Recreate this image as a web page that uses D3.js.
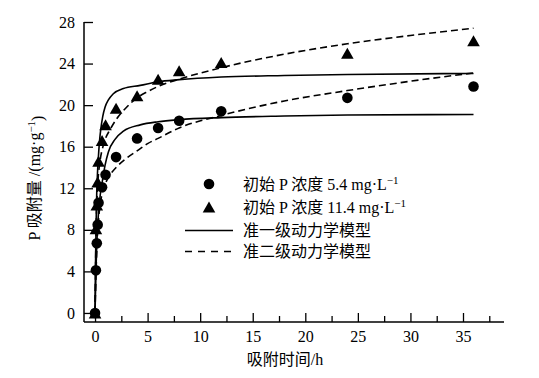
<!DOCTYPE html>
<html><head><meta charset="utf-8">
<script src="https://cdn.jsdelivr.net/npm/d3@7"></script>
<style>
body{margin:0;background:#fff;}
text{font-family:"Liberation Serif","Noto Sans CJK SC",serif;fill:#000;}
</style></head>
<body><svg id="c" width="539" height="378"></svg>
<script>
// measured data
const times = [0, 0.083, 0.167, 0.25, 0.333, 0.667, 1, 2, 4, 6, 8, 12, 24, 36];
const q54  = [0, 4.1, 6.7, 8.5, 10.6, 12.1, 13.3, 15.0, 16.8, 17.8, 18.5, 19.4, 20.7, 21.8];
const q114 = [0, 8.1, 10.4, 12.6, 14.6, 16.6, 18.1, 19.7, 20.9, 22.5, 23.3, 24.1, 25.0, 26.2];

// fitted curves
const pfo54T = [0, 0.083, 0.167, 0.25, 0.35, 0.5, 0.73, 0.95, 1.27, 1.9, 2.7, 4.3, 6, 8, 12, 18, 24, 36];
const pfo54Q = [0, 4.0, 6.6, 8.4, 9.9, 11.4, 12.9, 14.2, 15.5, 16.7, 17.5, 18.1, 18.4, 18.6, 18.8, 18.95, 19.05, 19.1];
const pfo114T = [0, 0.05, 0.1, 0.16, 0.25, 0.35, 0.45, 0.55, 0.73, 0.95, 1.27, 1.74, 2.7, 4.3, 6, 8, 12, 18, 24, 36];
const pfo114Q = [0, 5.0, 8.5, 11.5, 13.8, 15.5, 16.8, 17.7, 18.9, 19.8, 20.5, 21.1, 21.6, 21.9, 22.25, 22.45, 22.7, 22.85, 22.95, 23.05];
const pso54T = [0, 0.083, 0.167, 0.25, 0.35, 0.5, 0.75, 1, 1.5, 2, 3, 4, 5, 6, 8, 12, 18, 24, 30, 36];
const pso54Q = [0, 3.5, 6.0, 7.8, 9.2, 10.5, 11.8, 12.5, 13.4, 14.0, 14.9, 15.6, 16.3, 16.8, 17.8, 19.0, 20.4, 21.4, 22.3, 23.1];
const pso114T = [0, 0.083, 0.167, 0.25, 0.35, 0.5, 0.75, 1, 1.4, 2, 3, 4, 5, 6, 8, 12, 18, 24, 30, 36];
const pso114Q = [0, 7.0, 10.5, 12.3, 13.6, 14.8, 16.0, 16.8, 17.6, 18.6, 19.8, 20.7, 21.3, 21.8, 22.5, 23.6, 24.9, 25.9, 26.7, 27.4];

const xTicks = [0, 5, 10, 15, 20, 25, 30, 35];
const xMinor = [2.5, 7.5, 12.5, 17.5, 22.5, 27.5, 32.5, 37.5];
const yTicks = [0, 4, 8, 12, 16, 20, 24, 28];
const legendLabels = ["初始 P 浓度 5.4 mg·L", "初始 P 浓度 11.4 mg·L", "准一级动力学模型", "准二级动力学模型"];
const xTitle = "吸附时间/h";

const svg = d3.select("#c");
const x = d3.scaleLinear().domain([-1.05, 38.9]).range([84, 504]);
const y = d3.scaleLinear().domain([-0.87, 28]).range([322, 22]);

// axes
const gx = svg.append("g").attr("transform","translate(0,322)")
  .call(d3.axisBottom(x).tickValues(xTicks).tickSize(-9).tickPadding(9).tickFormat(d3.format("d")));
svg.append("g").attr("transform","translate(0,322)")
  .call(d3.axisBottom(x).tickValues(xMinor).tickSize(-6).tickFormat(""))
  .call(g=>g.select(".domain").remove());
const gy = svg.append("g").attr("transform","translate(84,0)")
  .call(d3.axisLeft(y).tickValues(yTicks).tickSize(-9).tickPadding(9).tickFormat(d3.format("d")));
svg.selectAll(".domain").attr("stroke","#000").attr("stroke-width",1.5);
svg.selectAll(".tick line").attr("stroke","#000").attr("stroke-width",1.3);
svg.selectAll(".tick text").style("font-family","Liberation Serif").style("font-size","16px").attr("fill","#000");
gx.select(".domain").attr("d","M84,0H504");
gy.select(".domain").attr("d","M0,322V22");

// curves
const line = d3.line().x(d=>x(d[0])).y(d=>y(d[1])).curve(d3.curveMonotoneX);
function drawCurve(T,Q,dash){
  svg.append("path").datum(T.map((t,i)=>[t,Q[i]])).attr("d",line)
    .attr("fill","none").attr("stroke","#000").attr("stroke-width",1.6)
    .attr("stroke-dasharray",dash?"7,4":null);
}
drawCurve(pfo54T,pfo54Q,false);
drawCurve(pfo114T,pfo114Q,false);
drawCurve(pso54T,pso54Q,true);
drawCurve(pso114T,pso114Q,true);

// markers
const triPath = (cx,cy)=>`M${cx},${cy-5.5}L${cx+6.3},${cy+5.5}L${cx-6.3},${cy+5.5}Z`;
svg.append("g").selectAll("circle").data(times.map((t,i)=>[t,q54[i]])).join("circle")
  .attr("cx",d=>x(d[0])).attr("cy",d=>y(d[1])).attr("r",5.3).attr("fill","#000");
svg.append("g").selectAll("path").data(times.map((t,i)=>[t,q114[i]])).join("path")
  .attr("d",d=>triPath(x(d[0]),y(d[1]))).attr("fill","#000");

// legend
const lg = svg.append("g");
const rows = [184, 207, 230.5, 251.5];
lg.append("circle").attr("cx",209).attr("cy",rows[0]).attr("r",5.3).attr("fill","#000");
lg.append("path").attr("d",triPath(209,rows[1])).attr("fill","#000");
lg.append("line").attr("x1",185).attr("x2",233).attr("y1",rows[2]).attr("y2",rows[2]).attr("stroke","#000").attr("stroke-width",1.6);
lg.append("line").attr("x1",185).attr("x2",233).attr("y1",rows[3]).attr("y2",rows[3]).attr("stroke","#000").attr("stroke-width",1.6).attr("stroke-dasharray","7,6");
legendLabels.forEach((s,i)=>{
  const t = lg.append("text").attr("x",243).attr("y",rows[i]).attr("dy","0.36em").style("font-size","16px").text(s);
  if(i<2){ t.append("tspan").attr("dy","-0.55em").style("font-size","11px").text("−1"); }
});

// axis titles
svg.append("text").attr("x",285).attr("y",365).attr("text-anchor","middle").style("font-size","16px").text(xTitle);
const yt = svg.append("text").attr("transform","translate(40,178) rotate(-90)").attr("text-anchor","middle").style("font-size","16px");
yt.append("tspan").text("P 吸附量 /(mg·g");
yt.append("tspan").attr("dy","-0.5em").style("font-size","11px").text("−1");
yt.append("tspan").attr("dy","0.5em").text(")");
</script></body></html>
